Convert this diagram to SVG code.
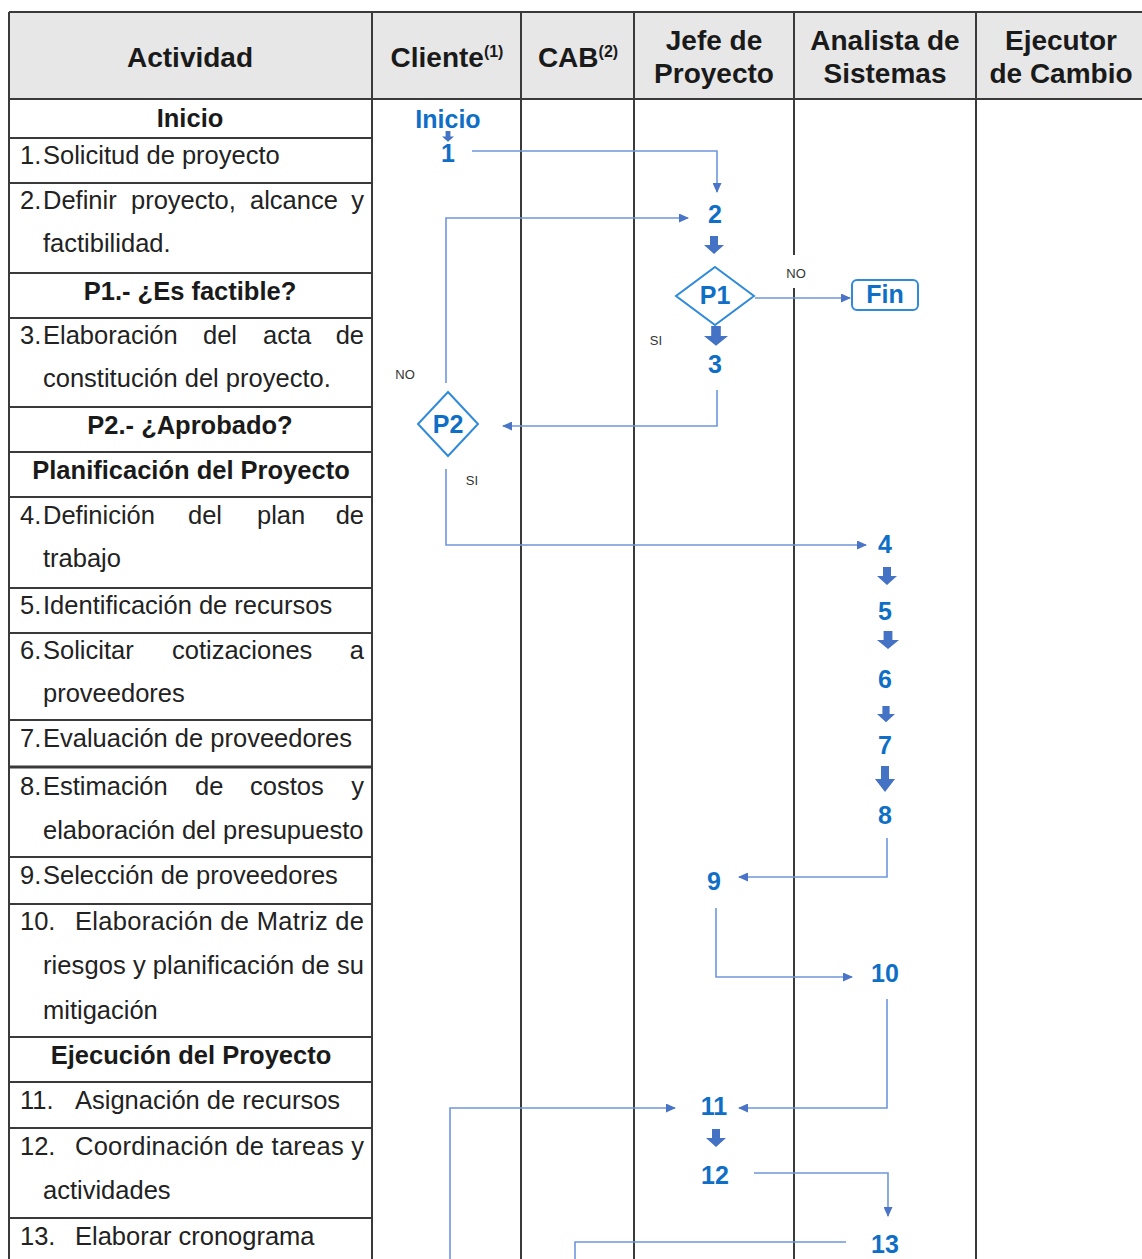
<svg xmlns="http://www.w3.org/2000/svg" xmlns:xlink="http://www.w3.org/1999/xlink" width="1142" height="1259" viewBox="0 0 1142 1259">
<style>
.hd{font-family:"Liberation Sans",Arial,sans-serif;font-weight:bold;font-size:28px;fill:#1a1a1a;text-anchor:middle}
.sup{font-size:16px}
.tx{font-family:"Liberation Sans",Arial,sans-serif;font-size:25.5px;fill:#222}
.tb{font-family:"Liberation Sans",Arial,sans-serif;font-size:25.5px;font-weight:bold;fill:#1a1a1a;text-anchor:middle}
.end{text-anchor:end}
.num{font-family:"Liberation Sans",Arial,sans-serif;font-size:25px;font-weight:bold;fill:#0f6fc6;text-anchor:middle}
.lbl{font-family:"Liberation Sans",Arial,sans-serif;font-size:13px;fill:#333;text-anchor:middle}
.grid{stroke:#3a3a3a;stroke-width:2;fill:none}
.conn{stroke:#6f96dc;stroke-width:1.6;fill:none}
.dia{stroke:#2f8ad8;stroke-width:2;fill:#fff}
.blk{fill:#4472c4}
</style>
<defs>
<marker id="ah" markerUnits="userSpaceOnUse" markerWidth="10" markerHeight="9" refX="9" refY="4.5" orient="auto">
<path d="M0,0 L10,4.5 L0,9 Z" fill="#4a74c8"/>
</marker>
<path id="barrow" d="M-4,0 H4 V9 H10 L0,18 L-10,9 H-4 Z"/>
</defs>

<g id="table">
<rect x="9" y="12" width="1134" height="87" fill="#e7e7e7"/>
<line class="grid" x1="9" y1="12" x2="1143" y2="12"/>
<line class="grid" x1="9" y1="99" x2="1143" y2="99"/>
<line class="grid" x1="9" y1="12" x2="9" y2="1259"/>
<line class="grid" x1="372" y1="12" x2="372" y2="1259"/>
<line class="grid" x1="521" y1="12" x2="521" y2="1259"/>
<line class="grid" x1="634" y1="12" x2="634" y2="1259"/>
<line class="grid" x1="794" y1="12" x2="794" y2="255"/>
<line class="grid" x1="794" y1="288" x2="794" y2="1259"/>
<line class="grid" x1="976" y1="12" x2="976" y2="1259"/>
<g class="grid">
<line x1="9" y1="138" x2="372" y2="138"/>
<line x1="9" y1="183" x2="372" y2="183"/>
<line x1="9" y1="273" x2="372" y2="273"/>
<line x1="9" y1="318" x2="372" y2="318"/>
<line x1="9" y1="407" x2="372" y2="407"/>
<line x1="9" y1="452" x2="372" y2="452"/>
<line x1="9" y1="497" x2="372" y2="497"/>
<line x1="9" y1="588" x2="372" y2="588"/>
<line x1="9" y1="633" x2="372" y2="633"/>
<line x1="9" y1="720" x2="372" y2="720"/>
<line x1="9" y1="767" x2="372" y2="767" stroke-width="3"/>
<line x1="9" y1="857" x2="372" y2="857"/>
<line x1="9" y1="904" x2="372" y2="904"/>
<line x1="9" y1="1037" x2="372" y2="1037"/>
<line x1="9" y1="1082" x2="372" y2="1082"/>
<line x1="9" y1="1128" x2="372" y2="1128"/>
<line x1="9" y1="1218" x2="372" y2="1218"/>
</g>
</g>

<g id="header">
<text class="hd" x="190" y="67">Actividad</text>
<text class="hd" x="447" y="67">Cliente<tspan class="sup" dy="-10">(1)</tspan></text>
<text class="hd" x="578" y="67">CAB<tspan class="sup" dy="-10">(2)</tspan></text>
<text class="hd" x="714" y="50">Jefe de</text>
<text class="hd" x="714" y="83">Proyecto</text>
<text class="hd" x="885" y="50">Analista de</text>
<text class="hd" x="885" y="83">Sistemas</text>
<text class="hd" x="1061" y="50">Ejecutor</text>
<text class="hd" x="1061" y="83">de Cambio</text>
</g>

<g id="activities">
<text class="tb" x="190" y="127">Inicio</text>
<text class="tx" x="20" y="164">1.</text><text class="tx" x="43" y="164">Solicitud de proyecto</text>
<text class="tx" x="20" y="209">2.</text><text class="tx" x="43" y="209">Definir</text><text class="tx" x="131" y="209">proyecto,</text><text class="tx" x="250" y="209">alcance</text><text class="tx end" x="364" y="209">y</text>
<text class="tx" x="43" y="252">factibilidad.</text>
<text class="tb" x="190" y="300">P1.- ¿Es factible?</text>
<text class="tx" x="20" y="344">3.</text><text class="tx" x="43" y="344">Elaboración</text><text class="tx" x="203" y="344">del</text><text class="tx" x="263" y="344">acta</text><text class="tx end" x="364" y="344">de</text>
<text class="tx" x="43" y="387">constitución del proyecto.</text>
<text class="tb" x="190" y="434">P2.- ¿Aprobado?</text>
<text class="tb" x="191" y="479">Planificación del Proyecto</text>
<text class="tx" x="20" y="524">4.</text><text class="tx" x="43" y="524">Definición</text><text class="tx" x="188" y="524">del</text><text class="tx" x="257" y="524">plan</text><text class="tx end" x="364" y="524">de</text>
<text class="tx" x="43" y="567">trabajo</text>
<text class="tx" x="20" y="614">5.</text><text class="tx" x="43" y="614">Identificación de recursos</text>
<text class="tx" x="20" y="659">6.</text><text class="tx" x="43" y="659">Solicitar</text><text class="tx" x="172" y="659">cotizaciones</text><text class="tx end" x="364" y="659">a</text>
<text class="tx" x="43" y="702">proveedores</text>
<text class="tx" x="20" y="747">7.</text><text class="tx" x="43" y="747">Evaluación de proveedores</text>
<text class="tx" x="20" y="795">8.</text><text class="tx" x="43" y="795">Estimación</text><text class="tx" x="195" y="795">de</text><text class="tx" x="250" y="795">costos</text><text class="tx end" x="364" y="795">y</text>
<text class="tx" x="43" y="839">elaboración del presupuesto</text>
<text class="tx" x="20" y="884">9.</text><text class="tx" x="43" y="884">Selección de proveedores</text>
<text class="tx" x="20" y="930">10.</text><text class="tx" x="75" y="930" textLength="289" lengthAdjust="spacing">Elaboración de Matriz de</text>
<text class="tx" x="43" y="974" textLength="321" lengthAdjust="spacing">riesgos y planificación de su</text>
<text class="tx" x="43" y="1019">mitigación</text>
<text class="tb" x="191" y="1064">Ejecución del Proyecto</text>
<text class="tx" x="20" y="1109">11.</text><text class="tx" x="75" y="1109">Asignación de recursos</text>
<text class="tx" x="20" y="1155">12.</text><text class="tx" x="75" y="1155" textLength="289" lengthAdjust="spacing">Coordinación de tareas y</text>
<text class="tx" x="43" y="1199">actividades</text>
<text class="tx" x="20" y="1245">13.</text><text class="tx" x="75" y="1245">Elaborar cronograma</text>
</g>

<g id="connectors">
<path class="conn" d="M472,151 H717 V192" marker-end="url(#ah)"/>
<path class="conn" d="M446,383 V218 H688" marker-end="url(#ah)"/>
<path class="conn" d="M755,298 H850" marker-end="url(#ah)"/>
<path class="conn" d="M717,390 V426 H503" marker-end="url(#ah)"/>
<path class="conn" d="M446,469 V545 H866" marker-end="url(#ah)"/>
<path class="conn" d="M887,838 V877 H739" marker-end="url(#ah)"/>
<path class="conn" d="M716,908 V977 H852" marker-end="url(#ah)"/>
<path class="conn" d="M887,999 V1108 H739" marker-end="url(#ah)"/>
<path class="conn" d="M450,1259 V1108 H675" marker-end="url(#ah)"/>
<path class="conn" d="M754,1173 H888 V1216" marker-end="url(#ah)"/>
<path class="conn" d="M846,1242 H575 V1259"/>
<g class="blk">
<use xlink:href="#barrow" transform="translate(448,131) scale(0.6)"/>
<use xlink:href="#barrow" transform="translate(714,236)"/>
<use xlink:href="#barrow" transform="translate(716,326) scale(1.2,1.1)"/>
<use xlink:href="#barrow" transform="translate(887,567)"/>
<use xlink:href="#barrow" transform="translate(888,631) scale(1.1,1)"/>
<use xlink:href="#barrow" transform="translate(886,706) scale(0.9)"/>
<use xlink:href="#barrow" transform="translate(885,766) scale(1,1.45)"/>
<use xlink:href="#barrow" transform="translate(716,1129)"/>
</g>
<text class="lbl" x="796" y="278">NO</text>
<text class="lbl" x="656" y="345">SI</text>
<text class="lbl" x="405" y="379">NO</text>
<text class="lbl" x="472" y="485">SI</text>
</g>

<g id="n-inicio"><text class="num" x="448" y="128">Inicio</text></g>
<g id="n1"><text class="num" x="448" y="162">1</text></g>
<g id="n2"><text class="num" x="715" y="223">2</text></g>
<g id="n-p1"><path class="dia" d="M715,267 L754,296 L715,325 L676,296 Z"/><text class="num" x="715" y="304">P1</text></g>
<g id="n-fin"><rect class="dia" x="852" y="280" width="66" height="30" rx="5"/><text class="num" x="885" y="303">Fin</text></g>
<g id="n3"><text class="num" x="715" y="373">3</text></g>
<g id="n-p2"><path class="dia" d="M448,392 L478,424 L448,456 L418,424 Z"/><text class="num" x="448" y="433">P2</text></g>
<g id="n4"><text class="num" x="885" y="553">4</text></g>
<g id="n5"><text class="num" x="885" y="620">5</text></g>
<g id="n6"><text class="num" x="885" y="688">6</text></g>
<g id="n7"><text class="num" x="885" y="754">7</text></g>
<g id="n8"><text class="num" x="885" y="824">8</text></g>
<g id="n9"><text class="num" x="714" y="890">9</text></g>
<g id="n10"><text class="num" x="885" y="982">10</text></g>
<g id="n11"><text class="num" x="714" y="1115">11</text></g>
<g id="n12"><text class="num" x="715" y="1184">12</text></g>
<g id="n13"><text class="num" x="885" y="1253">13</text></g>
</svg>
